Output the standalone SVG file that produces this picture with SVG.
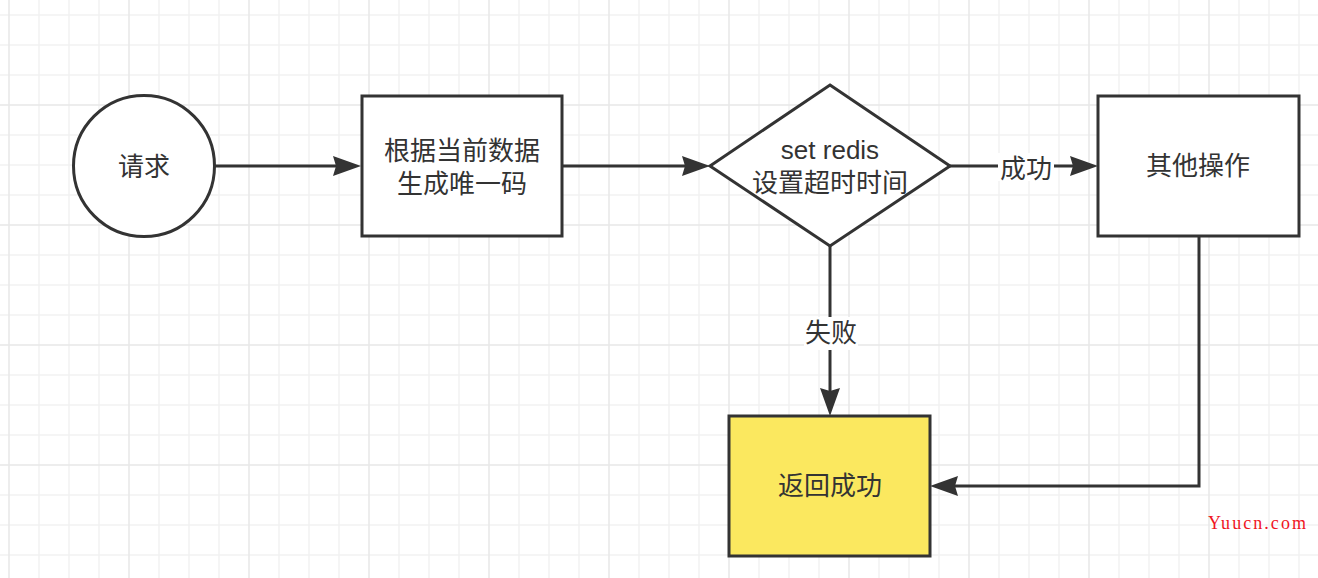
<svg xmlns="http://www.w3.org/2000/svg" width="1318" height="578" viewBox="0 0 1318 578">
<style>
.shape{fill:#fff;stroke:#333;stroke-width:3}
.t{font-family:"Liberation Sans","Noto Sans CJK SC",sans-serif;font-size:26px;fill:#333;text-anchor:middle}
.edge{fill:none;stroke:#333;stroke-width:3}
.lbl{fill:#fff}
</style>
<defs>
<pattern id="grid" width="120" height="120" patternUnits="userSpaceOnUse" x="8" y="-16">
<path d="M31 0V120M61 0V120M91 0V120M0 31H120M0 61H120M0 91H120" stroke="#f2f2f2" stroke-width="1.5"/>
<path d="M1 0V120M0 1H120" stroke="#e8e8e8" stroke-width="1.5"/>
</pattern>
<marker id="arr" viewBox="0 0 28 20" refX="8" refY="10" markerWidth="28" markerHeight="20" markerUnits="userSpaceOnUse" orient="auto">
<path d="M0 0L28 10L0 20L3 10Z" fill="#333"/>
</marker>
</defs>
<rect width="1318" height="578" fill="#fff"/>
<rect width="1318" height="578" fill="url(#grid)"/>
<g id="connectors">
<path class="edge" d="M215 166H341" marker-end="url(#arr)"/>
<path class="edge" d="M563 166H690" marker-end="url(#arr)"/>
<path class="edge" d="M950 166H1078" marker-end="url(#arr)"/>
<path class="edge" d="M830 246V396" marker-end="url(#arr)"/>
<path class="edge" d="M1199 237V486H950" marker-end="url(#arr)"/>
<rect class="lbl" x="998" y="153" width="56" height="28"/>
<text class="t" x="1026" y="178">成功</text>
<rect class="lbl" x="804" y="317" width="54" height="33"/>
<text class="t" x="831" y="342">失败</text>
</g>
<g id="n-request">
<circle class="shape" cx="144" cy="166" r="70.5"/>
<text class="t" x="144" y="176">请求</text>
</g>
<g id="n-gen">
<rect class="shape" x="362" y="96" width="200" height="140"/>
<text class="t" x="462" y="160">根据当前数据</text>
<text class="t" x="462" y="193">生成唯一码</text>
</g>
<g id="n-redis">
<path class="shape" d="M830 85L950 166L830 246L710 166Z" stroke-linejoin="miter"/>
<text class="t" x="830" y="159">set redis</text>
<text class="t" x="830" y="192">设置超时时间</text>
</g>
<g id="n-other">
<rect class="shape" x="1098" y="96" width="201" height="140"/>
<text class="t" x="1198" y="175">其他操作</text>
</g>
<g id="n-return">
<rect class="shape" x="729" y="416" width="201" height="140" style="fill:#fbe85f"/>
<text class="t" x="830" y="495">返回成功</text>
</g>
<text x="1208" y="529" textLength="98" lengthAdjust="spacing" style="font-family:'Liberation Serif',serif;font-size:18px;fill:#f0141e">Yuucn.com</text>
</svg>
